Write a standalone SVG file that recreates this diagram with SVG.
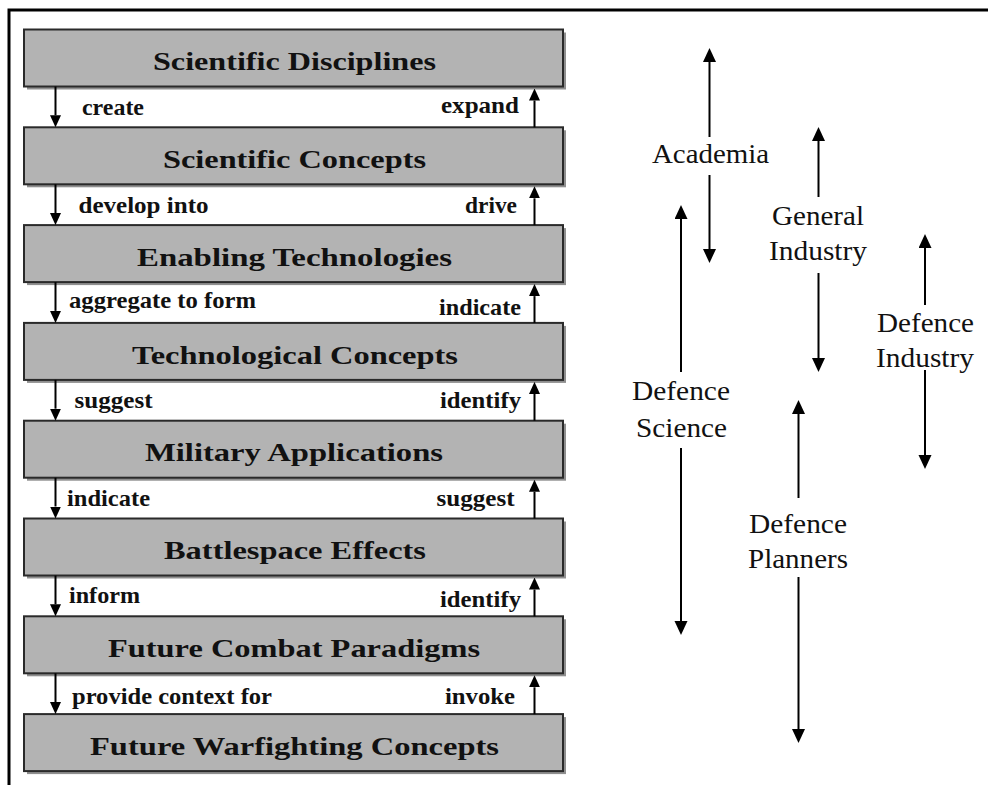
<svg xmlns="http://www.w3.org/2000/svg" width="988" height="785" viewBox="0 0 988 785">
<defs>
<style>
.shadow{fill:#8f8f8f;}
.box{fill:#b3b3b3;stroke:#2a2a2a;stroke-width:2;}
.title{font-weight:bold;font-size:26px;fill:#111;}
.lbl{font-weight:bold;font-size:24px;fill:#111;}
.grp{font-size:28px;fill:#111;}
.ln{stroke:#000;stroke-width:2;fill:none;}
.sm{marker-end:url(#hs);}
.bg{marker-end:url(#hb);}
</style>
<marker id="hs" markerUnits="userSpaceOnUse" markerWidth="12" markerHeight="12" refX="0" refY="5.5" orient="auto"><path d="M0,0 L12,5.5 L0,11 z" fill="#000"/></marker>
<marker id="hb" markerUnits="userSpaceOnUse" markerWidth="14" markerHeight="14" refX="0" refY="6.5" orient="auto"><path d="M0,0 L14,6.5 L0,13 z" fill="#000"/></marker>
</defs>
<rect width="988" height="785" fill="#fff"/>
<path d="M988,10 H9 V785" stroke="#000" stroke-width="3" fill="none"/>

<g font-family="Liberation Serif, Times New Roman, serif">
<g id="n1"><rect class="shadow" x="27" y="32.5" width="539" height="57"/><rect class="box" x="24" y="29.5" width="539" height="57"/><text class="title" x="153" y="70" textLength="283" lengthAdjust="spacingAndGlyphs">Scientific Disciplines</text></g>
<g id="n2"><rect class="shadow" x="27" y="130.3" width="539" height="57"/><rect class="box" x="24" y="127.3" width="539" height="57"/><text class="title" x="163" y="167.5" textLength="263" lengthAdjust="spacingAndGlyphs">Scientific Concepts</text></g>
<g id="n3"><rect class="shadow" x="27" y="228.1" width="539" height="57"/><rect class="box" x="24" y="225.1" width="539" height="57"/><text class="title" x="137" y="266" textLength="315" lengthAdjust="spacingAndGlyphs">Enabling Technologies</text></g>
<g id="n4"><rect class="shadow" x="27" y="325.9" width="539" height="57"/><rect class="box" x="24" y="322.9" width="539" height="57"/><text class="title" x="132" y="364" textLength="326" lengthAdjust="spacingAndGlyphs">Technological Concepts</text></g>
<g id="n5"><rect class="shadow" x="27" y="423.7" width="539" height="57"/><rect class="box" x="24" y="420.7" width="539" height="57"/><text class="title" x="145" y="461" textLength="298" lengthAdjust="spacingAndGlyphs">Military Applications</text></g>
<g id="n6"><rect class="shadow" x="27" y="521.5" width="539" height="57"/><rect class="box" x="24" y="518.5" width="539" height="57"/><text class="title" x="164" y="559" textLength="262" lengthAdjust="spacingAndGlyphs">Battlespace Effects</text></g>
<g id="n7"><rect class="shadow" x="27" y="619.3" width="539" height="57"/><rect class="box" x="24" y="616.3" width="539" height="57"/><text class="title" x="108" y="656.5" textLength="372" lengthAdjust="spacingAndGlyphs">Future Combat Paradigms</text></g>
<g id="n8"><rect class="shadow" x="27" y="717.1" width="539" height="57"/><rect class="box" x="24" y="714.1" width="539" height="57"/><text class="title" x="90" y="754.5" textLength="409" lengthAdjust="spacingAndGlyphs">Future Warfighting Concepts</text></g>

<g id="g-academia"><text class="grp" x="652" y="163" textLength="117" lengthAdjust="spacingAndGlyphs">Academia</text></g>
<g id="g-general-industry"><text class="grp" x="772" y="225" textLength="92" lengthAdjust="spacingAndGlyphs">General</text><text class="grp" x="769" y="260" textLength="98" lengthAdjust="spacingAndGlyphs">Industry</text></g>
<g id="g-defence-industry"><text class="grp" x="877" y="332" textLength="97" lengthAdjust="spacingAndGlyphs">Defence</text><text class="grp" x="876" y="367" textLength="98" lengthAdjust="spacingAndGlyphs">Industry</text></g>
<g id="g-defence-science"><text class="grp" x="632" y="400" textLength="98" lengthAdjust="spacingAndGlyphs">Defence</text><text class="grp" x="636" y="437" textLength="91" lengthAdjust="spacingAndGlyphs">Science</text></g>
<g id="g-defence-planners"><text class="grp" x="749" y="533" textLength="98" lengthAdjust="spacingAndGlyphs">Defence</text><text class="grp" x="748" y="568" textLength="100" lengthAdjust="spacingAndGlyphs">Planners</text></g>

<g id="labels">
<text class="lbl" x="82" y="115" textLength="62" lengthAdjust="spacingAndGlyphs">create</text>
<text class="lbl" x="441" y="113" textLength="78" lengthAdjust="spacingAndGlyphs">expand</text>
<text class="lbl" x="78.5" y="213" textLength="130" lengthAdjust="spacingAndGlyphs">develop into</text>
<text class="lbl" x="465" y="213" textLength="52" lengthAdjust="spacingAndGlyphs">drive</text>
<text class="lbl" x="69" y="308" textLength="187" lengthAdjust="spacingAndGlyphs">aggregate to form</text>
<text class="lbl" x="439" y="315" textLength="82" lengthAdjust="spacingAndGlyphs">indicate</text>
<text class="lbl" x="74.5" y="408" textLength="78" lengthAdjust="spacingAndGlyphs">suggest</text>
<text class="lbl" x="440" y="408" textLength="81" lengthAdjust="spacingAndGlyphs">identify</text>
<text class="lbl" x="67" y="506" textLength="83" lengthAdjust="spacingAndGlyphs">indicate</text>
<text class="lbl" x="436.5" y="506" textLength="78" lengthAdjust="spacingAndGlyphs">suggest</text>
<text class="lbl" x="69" y="603" textLength="71" lengthAdjust="spacingAndGlyphs">inform</text>
<text class="lbl" x="440" y="607" textLength="81" lengthAdjust="spacingAndGlyphs">identify</text>
<text class="lbl" x="72" y="704" textLength="200" lengthAdjust="spacingAndGlyphs">provide context for</text>
<text class="lbl" x="445" y="704" textLength="70" lengthAdjust="spacingAndGlyphs">invoke</text>
</g>
</g>

<g id="connectors">
<line class="ln sm" x1="55.5" y1="86.5" x2="55.5" y2="115.3"/>
<line class="ln sm" x1="55.5" y1="184.3" x2="55.5" y2="213.1"/>
<line class="ln sm" x1="55.5" y1="282.1" x2="55.5" y2="310.9"/>
<line class="ln sm" x1="55.5" y1="379.9" x2="55.5" y2="408.7"/>
<line class="ln sm" x1="55.5" y1="477.7" x2="55.5" y2="506.5"/>
<line class="ln sm" x1="55.5" y1="575.5" x2="55.5" y2="604.3"/>
<line class="ln sm" x1="55.5" y1="673.3" x2="55.5" y2="702.1"/>

<line class="ln sm" x1="534.5" y1="127.3" x2="534.5" y2="100.5"/>
<line class="ln sm" x1="534.5" y1="225.1" x2="534.5" y2="198.3"/>
<line class="ln sm" x1="534.5" y1="322.9" x2="534.5" y2="296.1"/>
<line class="ln sm" x1="534.5" y1="420.7" x2="534.5" y2="393.9"/>
<line class="ln sm" x1="534.5" y1="518.5" x2="534.5" y2="491.7"/>
<line class="ln sm" x1="534.5" y1="616.3" x2="534.5" y2="589.5"/>
<line class="ln sm" x1="534.5" y1="714.1" x2="534.5" y2="687.3"/>

<line class="ln bg" x1="709.5" y1="137" x2="709.5" y2="62"/>
<line class="ln bg" x1="709.5" y1="175" x2="709.5" y2="249"/>
<line class="ln bg" x1="681" y1="372" x2="681" y2="219"/>
<line class="ln bg" x1="681" y1="448" x2="681" y2="621"/>
<line class="ln bg" x1="818.5" y1="197" x2="818.5" y2="141"/>
<line class="ln bg" x1="818.5" y1="273" x2="818.5" y2="358"/>
<line class="ln bg" x1="925" y1="305" x2="925" y2="248"/>
<line class="ln bg" x1="925" y1="370" x2="925" y2="455"/>
<line class="ln bg" x1="798.5" y1="498" x2="798.5" y2="414"/>
<line class="ln bg" x1="798.5" y1="577" x2="798.5" y2="729"/>
</g>
</svg>
